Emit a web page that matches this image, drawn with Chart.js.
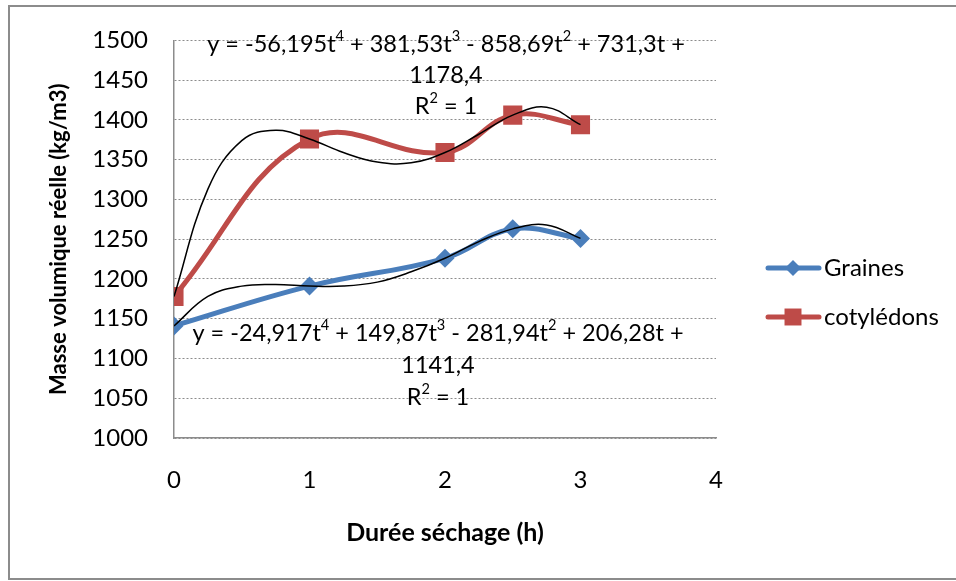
<!DOCTYPE html>
<html lang="fr">
<head>
  <meta charset="UTF-8" />
  <title>Masse volumique réelle</title>
  <script src="https://cdn.jsdelivr.net/npm/chart.js"></script>
  <style>
    body { margin: 0; background: #fff; }
    .wrap { width: 956px; height: 581px; position: relative; }
  </style>
</head>
<body>
  <div class="wrap">
    <canvas id="chart" width="956" height="581"></canvas>
  </div>

  <script>
    // durée de séchage (h)
    const duree = [0, 1, 2, 2.5, 3];
    const graines = [1141, 1191, 1226, 1263, 1251];
    const cotyledons = [1178, 1376, 1359, 1406, 1394];

    // courbes de tendance (poly. ordre 4)
    const dureeTendance = [0, 0.25, 0.5, 0.75, 1, 1.25, 1.5, 1.75, 2, 2.25, 2.5, 2.75, 3];
    const grainesTendance = [1141, 1178, 1191, 1193, 1191, 1191, 1196, 1209, 1226, 1247, 1263, 1268, 1251];
    const cotyTendance = [1178, 1313, 1374, 1387, 1376, 1359, 1347, 1346, 1359, 1382, 1406, 1416, 1394];

    const yTicks = [1000, 1050, 1100, 1150, 1200, 1250, 1300, 1350, 1400, 1450, 1500];
    const xTicks = [0, 1, 2, 3, 4];

    const eqCoty = [[['y = -56,195t', 0], ['4', 1], [' + 381,53t', 0], ['3', 1], [' - 858,69t', 0], ['2', 1], [' + 731,3t +', 0]],
                    [['1178,4', 0]],
                    [['R', 0], ['2', 1], [' = 1', 0]]];
    const eqGraines = [[['y = -24,917t', 0], ['4', 1], [' + 149,87t', 0], ['3', 1], [' - 281,94t', 0], ['2', 1], [' + 206,28t +', 0]],
                       [['1141,4', 0]],
                       [['R', 0], ['2', 1], [' = 1', 0]]];

    const FONT = 'Lato, "Open Sans", sans-serif';
    const BLUE = '#4A7EBB';
    const RED = '#BE4B48';

    const pts = (xs, ys) => xs.map((x, i) => ({ x: x, y: ys[i] }));

    function drawRich(ctx, parts, cx, cy, size) {
      let w = 0;
      parts.forEach(p => {
        ctx.font = (p[1] ? size * 0.62 : size) + 'px ' + FONT;
        w += ctx.measureText(p[0]).width;
      });
      let x = cx - w / 2;
      parts.forEach(p => {
        ctx.font = (p[1] ? size * 0.62 : size) + 'px ' + FONT;
        ctx.fillText(p[0], x, p[1] ? cy - size * 0.33 : cy);
        x += ctx.measureText(p[0]).width;
      });
    }

    const decor = {
      id: 'decor',
      beforeDraw(chart) {
        const ctx = chart.ctx;
        ctx.save();
        ctx.strokeStyle = '#8c8c8c';
        ctx.lineWidth = 2;
        ctx.strokeRect(9, 6, 960, 573);
        ctx.restore();
      },
      afterDraw(chart) {
        const ctx = chart.ctx;
        ctx.save();
        ctx.fillStyle = '#000';
        ctx.textBaseline = 'middle';
        eqCoty.forEach((line, i) => drawRich(ctx, line, 446, 44 + i * 31, 23.5));
        eqGraines.forEach((line, i) => drawRich(ctx, line, 438, 333 + i * 32, 23.5));

        // légende
        const items = [
          { label: 'Graines', color: BLUE, style: 'rectRot', r: 8, y: 268 },
          { label: 'cotylédons', color: RED, style: 'rect', r: 12, y: 317 }
        ];
        items.forEach(it => {
          ctx.strokeStyle = it.color;
          ctx.lineWidth = 5;
          ctx.lineCap = 'round';
          ctx.beginPath();
          ctx.moveTo(768, it.y);
          ctx.lineTo(819, it.y);
          ctx.stroke();
          ctx.fillStyle = it.color;
          Chart.helpers.drawPoint(ctx, { pointStyle: it.style, radius: it.r, borderWidth: 0 }, 793, it.y);
          ctx.fillStyle = '#000';
          ctx.font = '24px ' + FONT;
          ctx.textAlign = 'left';
          ctx.fillText(it.label, 824, it.y);
        });
        ctx.restore();
      }
    };

    new Chart(document.getElementById('chart'), {
      type: 'line',
      data: {
        datasets: [
          {
            label: 'tendance cotylédons',
            data: pts(dureeTendance, cotyTendance),
            borderColor: '#000',
            borderWidth: 1.5,
            pointRadius: 0,
            tension: 0.4,
            order: 0
          },
          {
            label: 'tendance Graines',
            data: pts(dureeTendance, grainesTendance),
            borderColor: '#000',
            borderWidth: 1.5,
            pointRadius: 0,
            tension: 0.4,
            order: 0
          },
          {
            label: 'Graines',
            data: pts(duree, graines),
            borderColor: BLUE,
            backgroundColor: BLUE,
            borderWidth: 5,
            pointStyle: 'rectRot',
            pointRadius: 9.5,
            pointBorderWidth: 0,
            tension: 0.4,
            order: 1
          },
          {
            label: 'cotylédons',
            data: pts(duree, cotyledons),
            borderColor: RED,
            backgroundColor: RED,
            borderWidth: 5,
            pointStyle: 'rect',
            pointRadius: 13.5,
            pointBorderWidth: 0,
            tension: 0.4,
            order: 1
          }
        ]
      },
      options: {
        responsive: false,
        animation: false,
        layout: { padding: { left: 10, top: 35, right: 240, bottom: 0 } },
        plugins: {
          legend: { display: false },
          tooltip: { enabled: false }
        },
        scales: {
          x: {
            type: 'linear',
            min: 0,
            max: 4,
            afterBuildTicks: s => { s.ticks = xTicks.map(v => ({ value: v })); },
            afterFit: s => { s.height = 143; },
            grid: { display: false },
            border: { display: true, color: '#8c8c8c', width: 1.5 },
            ticks: {
              padding: 20,
              color: '#000',
              font: { family: FONT, size: 24 },
              callback: v => String(v)
            },
            title: {
              display: true,
              text: 'Durée séchage (h)',
              color: '#000',
              font: { family: FONT, size: 25, weight: 'bold' },
              padding: { bottom: 33 }
            }
          },
          y: {
            min: 1000,
            max: 1500,
            afterBuildTicks: s => { s.ticks = yTicks.map(v => ({ value: v })); },
            afterFit: s => { s.width = 164; },
            grid: { color: '#8c8c8c', drawTicks: false, lineWidth: 1 },
            border: { display: true, color: '#8c8c8c', width: 1.5, dash: [2, 2] },
            ticks: {
              padding: 26,
              color: '#000',
              font: { family: FONT, size: 24 },
              callback: v => String(v)
            },
            title: {
              display: true,
              text: 'Masse volumique réelle (kg/m3)',
              color: '#000',
              font: { family: FONT, size: 22, weight: 'bold' },
              padding: { top: 36 }
            }
          }
        }
      },
      plugins: [decor]
    });
  </script>
</body>
</html>
